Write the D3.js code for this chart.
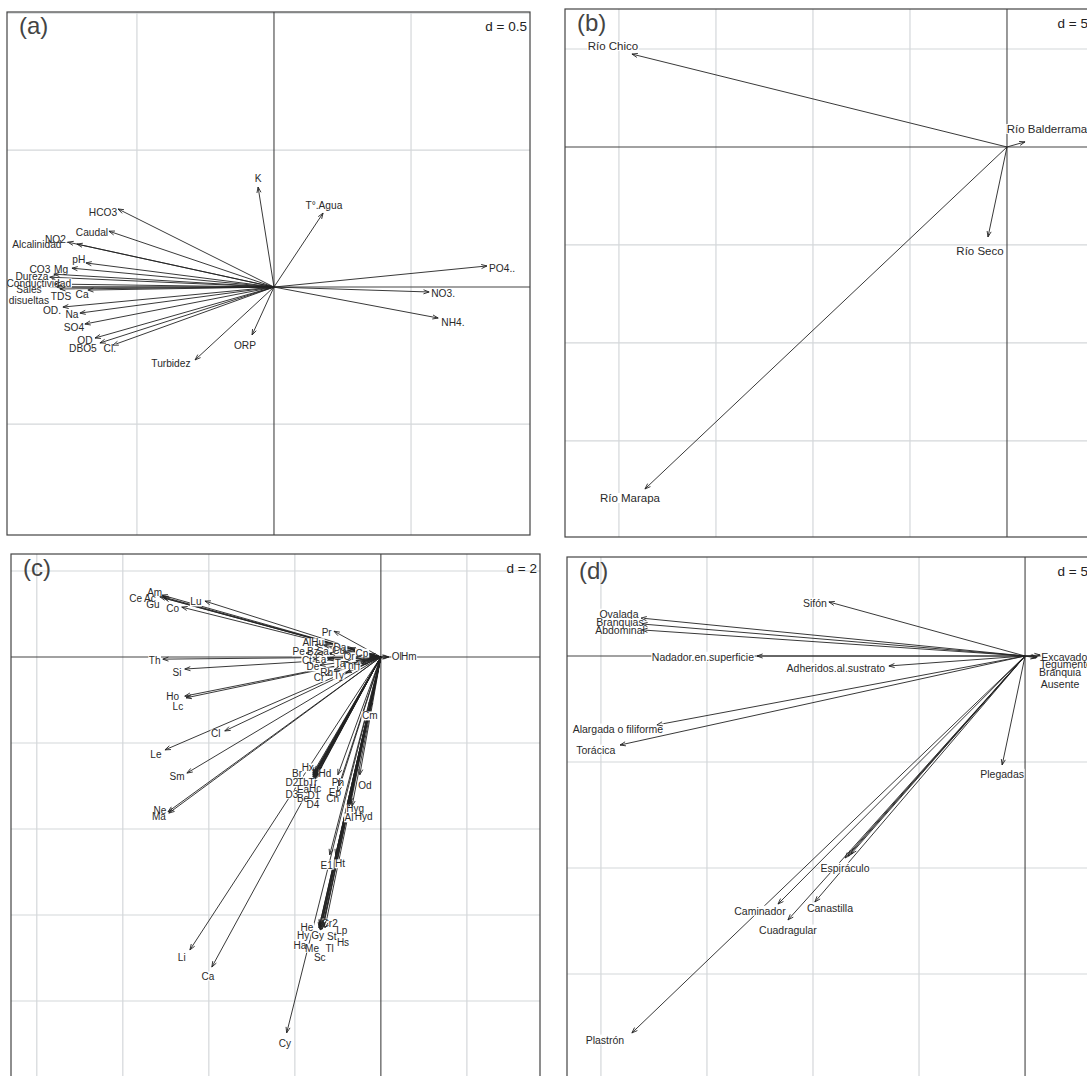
<!DOCTYPE html>
<html><head><meta charset="utf-8">
<script src="https://cdn.jsdelivr.net/npm/d3@7"></script>
<style>body{margin:0;background:#fff}svg{display:block}text{font-family:"Liberation Sans",Arial,sans-serif}</style>
</head><body><svg id="c" width="1087" height="1076"></svg>
<script>
// ---------- Panel (a): physico-chemical variables ----------
const aNames = ["K","T°.Agua","HCO3","Caudal","NO2.","Alcalinidad","pH","Mg","CO3","Dureza","Conductividad","Sales\ndisueltas","TDS","Ca","OD.","Na","SO4","OD","DBO5","Cl.","Turbidez","ORP","PO4..","NO3.","NH4."];
const aX = [-0.058,0.179,-0.569,-0.602,-0.752,-0.719,-0.686,-0.737,-0.803,-0.818,-0.799,-0.792,-0.781,-0.679,-0.770,-0.708,-0.690,-0.653,-0.635,-0.588,-0.288,-0.080,0.777,0.566,0.599];
const aY = [0.365,0.270,0.285,0.204,0.164,0.157,0.088,0.069,0.047,0.036,0.011,0.0,-0.007,-0.011,-0.073,-0.095,-0.135,-0.186,-0.204,-0.212,-0.266,-0.175,0.077,-0.018,-0.113];
const aLabX = [-0.058,0.182,-0.624,-0.664,-0.792,-0.865,-0.712,-0.777,-0.854,-0.883,-0.858,-0.894,-0.777,-0.700,-0.810,-0.737,-0.730,-0.690,-0.697,-0.599,-0.376,-0.106,0.832,0.617,0.653];
const aLabY = [0.398,0.299,0.274,0.201,0.175,0.157,0.102,0.066,0.066,0.040,0.015,-0.029,-0.033,-0.026,-0.084,-0.099,-0.146,-0.193,-0.223,-0.223,-0.277,-0.212,0.069,-0.022,-0.128];

// ---------- Panel (b): rivers ----------
const bNames = ["Río Chico","Río Balderrama","Río Seco","Río Marapa"];
const bX = [-19.33,0.93,-0.98,-18.66];
const bY = [4.74,0.26,-4.59,-17.45];
const bLabX = [-20.31,2.06,-1.39,-19.43];
const bLabY = [5.15,0.92,-5.31,-17.91];

// ---------- Panel (c): taxa ----------
const cNames = ["Am","Ac","Ce","Gu","Lu","Co","Pr","Al","Hu","Da","Pe","Bz","Sa","Cu","Cp","Or","Th","Ct","La","Ta","Tn","Tl","De","Rh","Cr","Ty","Si","Ho","Lc","Cm","Cl","Le","Sm","Ne","Ma","Li","Ca","Hx","Hd","Br","D2","Tb","Tr","Ea","Hc","D3","Be","D1","D4","Ph","Ep","Cn","Od","Hyg","Al","Hyd","E1","Ht","He","Cr2","Lp","Hy","Gy","St","Hs","Ha","Me","Tl","Sc","Cy","Ol","Hm"];
const cX = [-5.09,-5.07,-5.14,-5.05,-4.09,-4.63,-1.09,-1.53,-1.33,-0.72,-1.74,-1.47,-1.19,-0.86,-0.26,-0.58,-5.07,-1.56,-1.23,-0.81,-0.63,-0.44,-1.42,-1.09,-1.28,-0.81,-4.56,-4.56,-4.53,-0.26,-3.63,-5.02,-4.51,-4.95,-4.93,-4.44,-3.93,-1.53,-1.47,-1.58,-1.58,-1.56,-1.53,-1.56,-1.51,-1.58,-1.56,-1.53,-1.53,-1.00,-0.98,-1.00,-0.49,-0.72,-0.74,-0.67,-1.19,-1.05,-1.42,-1.37,-1.33,-1.42,-1.40,-1.35,-1.30,-1.44,-1.42,-1.37,-1.40,-2.19,0.16,0.19];
const cY = [1.44,1.40,1.40,1.37,1.30,1.16,0.60,0.28,0.28,0.21,0.09,0.09,0.09,0.12,0.07,0,-0.05,-0.05,-0.05,-0.12,-0.16,-0.16,-0.19,-0.30,-0.42,-0.37,-0.28,-0.91,-0.95,-1.19,-1.72,-2.16,-2.70,-3.60,-3.63,-6.81,-7.21,-2.67,-2.65,-2.70,-2.74,-2.74,-2.74,-2.77,-2.77,-2.79,-2.81,-2.81,-2.84,-2.74,-3.00,-3.14,-2.74,-3.40,-3.47,-3.47,-4.60,-4.60,-6.23,-6.19,-6.23,-6.26,-6.28,-6.28,-6.30,-6.30,-6.33,-6.33,-6.35,-8.74,0,0];
const cLabX = [-5.26,-5.37,-5.70,-5.30,-4.30,-4.84,-1.26,-1.72,-1.47,-0.95,-1.91,-1.58,-1.35,-0.98,-0.44,-0.74,-5.26,-1.72,-1.40,-0.95,-0.77,-0.58,-1.58,-1.26,-1.44,-0.98,-4.74,-4.84,-4.72,-0.26,-3.84,-5.23,-4.74,-5.14,-5.16,-4.63,-4.02,-1.70,-1.30,-1.95,-2.07,-1.81,-1.58,-1.81,-1.53,-2.07,-1.81,-1.56,-1.58,-1.00,-1.07,-1.12,-0.37,-0.60,-0.74,-0.40,-1.26,-0.95,-1.72,-1.19,-0.91,-1.81,-1.47,-1.14,-0.88,-1.88,-1.60,-1.19,-1.42,-2.23,0.37,0.65];
const cLabY = [1.51,1.37,1.37,1.23,1.28,1.12,0.56,0.33,0.33,0.23,0.12,0.12,0.12,0.14,0.09,0,-0.07,-0.07,-0.05,-0.14,-0.19,-0.21,-0.23,-0.35,-0.47,-0.42,-0.37,-0.91,-1.14,-1.37,-1.79,-2.26,-2.77,-3.56,-3.72,-6.98,-7.42,-2.58,-2.72,-2.70,-2.93,-2.93,-2.91,-3.07,-3.05,-3.19,-3.28,-3.21,-3.42,-2.93,-3.14,-3.30,-2.98,-3.53,-3.74,-3.72,-4.84,-4.81,-6.28,-6.19,-6.35,-6.47,-6.47,-6.51,-6.63,-6.70,-6.77,-6.79,-6.98,-8.98,0,0];

// ---------- Panel (d): biological traits ----------
const dNames = ["Sifón","Ovalada","Branquias","Abdominal","Nadador.en.superficie","Adheridos.al.sustrato","Alargada o filiforme","Torácica","Excavador","Tegumento","Branquia\nAusente","Plegadas","Espiráculo","","","Caminador","Canastilla","Cuadragular","Plastrón"];
const dX = [-9.25,-18.11,-18.07,-18.07,-12.64,-6.42,-17.36,-19.10,0.71,0.57,0.52,-1.08,-8.49,-8.35,-8.21,-11.65,-9.91,-11.18,-18.54];
const dY = [2.55,1.79,1.51,1.23,0,-0.47,-3.25,-4.20,0.05,-0.05,-0.09,-5.14,-9.53,-9.43,-9.34,-11.70,-11.60,-12.45,-17.78];
const dLabX = [-9.91,-19.15,-19.10,-19.10,-15.19,-8.92,-19.20,-20.24,1.93,1.93,1.65,-1.08,-8.49,-8.49,-8.49,-12.5,-9.20,-11.18,-19.81];
const dLabY = [2.50,1.98,1.60,1.23,-0.05,-0.57,-3.44,-4.43,-0.05,-0.40,-1.04,-5.57,-10.0,-10.0,-10.0,-12.03,-11.89,-12.92,-18.11];

const panels = [
  {key:"a", letter:"(a)", d:0.5, dText:"d = 0.5", l:7, r:530, t:12, b:535, xd:[-0.974,0.934], yd:[-0.905,1.004], fs:10.2, names:aNames, xs:aX, ys:aY, lx:aLabX, ly:aLabY},
  {key:"b", letter:"(b)", d:5, dText:"d = 5", l:565, r:1091, t:9, b:537, xd:[-22.78,4.33], yd:[-19.9,7.04], fs:11.5, names:bNames, xs:bX, ys:bY, lx:bLabX, ly:bLabY},
  {key:"c", letter:"(c)", d:2, dText:"d = 2", l:11, r:540, t:554, b:1078, xd:[-8.60,3.70], yd:[-9.79,2.395], fs:10, names:cNames, xs:cX, ys:cY, lx:cLabX, ly:cLabY},
  {key:"d", letter:"(d)", d:5, dText:"d = 5", l:567, r:1091, t:557, b:1080, xd:[-21.60,3.11], yd:[-20.0,4.67], fs:10.5, names:dNames, xs:dX, ys:dY, lx:dLabX, ly:dLabY}
];

const svg = d3.select("#c");
const defs = svg.append("defs");

function drawPanel(o){
  const x = d3.scaleLinear().domain(o.xd).range([o.l,o.r]);
  const y = d3.scaleLinear().domain(o.yd).range([o.b,o.t]);
  const cid = "clip-"+o.key;
  defs.append("clipPath").attr("id",cid).append("rect")
    .attr("x",o.l).attr("y",o.t).attr("width",o.r-o.l).attr("height",o.b-o.t);
  const g = svg.append("g").attr("clip-path",`url(#${cid})`);

  // grid
  const kx = d3.range(Math.ceil(o.xd[0]/o.d), Math.floor(o.xd[1]/o.d)+1).filter(k=>k!==0);
  const ky = d3.range(Math.ceil(o.yd[0]/o.d), Math.floor(o.yd[1]/o.d)+1).filter(k=>k!==0);
  g.selectAll(".gx").data(kx).join("line")
    .attr("x1",k=>x(k*o.d)).attr("x2",k=>x(k*o.d)).attr("y1",o.t).attr("y2",o.b)
    .attr("stroke","#d4d7da").attr("stroke-width",1.2);
  g.selectAll(".gy").data(ky).join("line")
    .attr("y1",k=>y(k*o.d)).attr("y2",k=>y(k*o.d)).attr("x1",o.l).attr("x2",o.r)
    .attr("stroke","#d4d7da").attr("stroke-width",1.2);
  // axes through origin
  g.append("line").attr("x1",x(0)).attr("x2",x(0)).attr("y1",o.t).attr("y2",o.b).attr("stroke","#444").attr("stroke-width",1.1);
  g.append("line").attr("y1",y(0)).attr("y2",y(0)).attr("x1",o.l).attr("x2",o.r).attr("stroke","#444").attr("stroke-width",1.1);

  const data = o.names.map((n,i)=>({n, x:o.xs[i], y:o.ys[i], lx:o.lx[i], ly:o.ly[i]}));
  // arrow shafts
  const ag = g.append("g").attr("stroke","#222").attr("fill","none").attr("stroke-width",0.9);
  data.forEach(dd=>{
    ag.append("line").attr("x1",x(0)).attr("y1",y(0)).attr("x2",x(dd.x)).attr("y2",y(dd.y));
  });
  // label backgrounds and texts
  const bg = g.append("g");
  const hg = g.append("g").attr("stroke","#222").attr("fill","none").attr("stroke-width",0.9);
  const tg = g.append("g");
  data.filter(dd=>dd.n!=="").forEach(dd=>{
    const lines = dd.n.split("\n");
    const t = tg.append("text").attr("x",x(dd.lx)).attr("y",y(dd.ly))
      .attr("text-anchor","middle").attr("font-size",o.fs).attr("fill","#2a2a2a");
    const lh = 1.1;
    lines.forEach((s,j)=>{
      t.append("tspan").attr("x",x(dd.lx))
        .attr("dy", j===0 ? ((0.35 - (lines.length-1)*lh/2)+"em") : (lh+"em"))
        .text(s);
    });
    const bb = t.node().getBBox();
    bg.append("rect").attr("x",bb.x-0.5).attr("y",bb.y+1).attr("width",bb.width+1).attr("height",bb.height-2).attr("fill","#fff");
  });
  // arrow heads on top of label backgrounds
  data.forEach(dd=>{
    const x0=x(0), y0=y(0), x1=x(dd.x), y1=y(dd.y);
    const ang = Math.atan2(y1-y0, x1-x0), L=6, a=Math.PI/9;
    hg.append("path").attr("d",
      `M${x1-L*Math.cos(ang-a)},${y1-L*Math.sin(ang-a)}L${x1},${y1}L${x1-L*Math.cos(ang+a)},${y1-L*Math.sin(ang+a)}`);
  });

  // frame
  svg.append("rect").attr("x",o.l).attr("y",o.t).attr("width",o.r-o.l).attr("height",o.b-o.t)
    .attr("fill","none").attr("stroke","#444").attr("stroke-width",1.2);
  // panel letter
  svg.append("text").attr("x",o.l+12).attr("y",o.t+22).attr("font-size",24).attr("fill","#444").text(o.letter);
  // d = label
  svg.append("text").attr("x",o.r-3).attr("y",o.t+19).attr("text-anchor","end")
    .attr("font-size",13.5).attr("fill","#222").text(o.dText);
}
panels.forEach(drawPanel);
</script></body></html>
